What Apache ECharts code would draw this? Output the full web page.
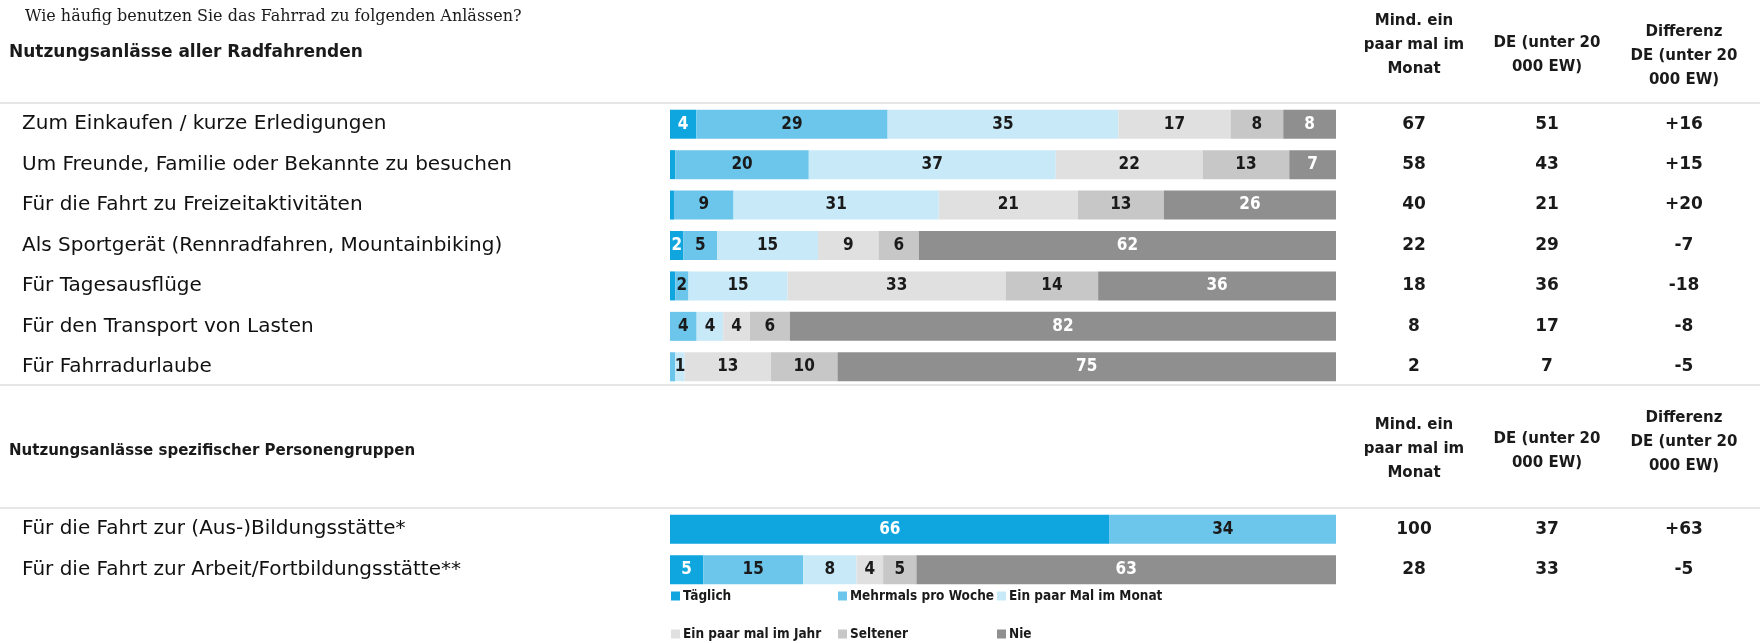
<!DOCTYPE html>
<html>
<head>
<meta charset="utf-8">
<script src="https://cdn.jsdelivr.net/npm/echarts@6/dist/echarts.min.js"></script>
<style>
  html, body { margin: 0; padding: 0; background: #fff; }
  #chart { width: 1760px; height: 643px; }
</style>
</head>
<body>
<div id="chart"></div>
<script>
// Stufen der Nutzungshäufigkeit
var stufen = ['Täglich', 'Mehrmals pro Woche', 'Ein paar Mal im Monat', 'Ein paar mal im Jahr', 'Seltener', 'Nie'];
var farben = ['#0fa5de', '#6cc5ea', '#c8eaf8', '#e0e0e0', '#c7c7c7', '#8f8f8f'];
var labelFarben = ['#fff', '#1a1a1a', '#1a1a1a', '#1a1a1a', '#1a1a1a', '#fff'];

// Nutzungsanlässe aller Radfahrenden
var anlaesse = [
  'Zum Einkaufen / kurze Erledigungen',
  'Um Freunde, Familie oder Bekannte zu besuchen',
  'Für die Fahrt zu Freizeitaktivitäten',
  'Als Sportgerät (Rennradfahren, Mountainbiking)',
  'Für Tagesausflüge',
  'Für den Transport von Lasten',
  'Für Fahrradurlaube'
];
var taeglich = [4, 0.8, 0.6, 2, 0.8, 0, 0];
var mehrmals = [29, 20, 9, 5, 2, 4, 0.8];
var monat = [35, 37, 31, 15, 15, 4, 1.4];
var jahr = [17, 22, 21, 9, 33, 4, 13];
var seltener = [8, 13, 13, 6, 14, 6, 10];
var nie = [8, 7, 26, 62, 36, 82, 75];
var mindMonat = [67, 58, 40, 22, 18, 8, 2];
var deWert = [51, 43, 21, 29, 36, 17, 7];
var differenz = ['+16', '+15', '+20', '-7', '-18', '-8', '-5'];

// Nutzungsanlässe spezifischer Personengruppen
var anlaesse2 = [
  'Für die Fahrt zur (Aus-)Bildungsstätte*',
  'Für die Fahrt zur Arbeit/Fortbildungsstätte**'
];
var taeglich2 = [66, 5];
var mehrmals2 = [34, 15];
var monat2 = [0, 8];
var jahr2 = [0, 4];
var seltener2 = [0, 5];
var nie2 = [0, 63];
var mindMonat2 = [100, 28];
var deWert2 = [37, 33];
var differenz2 = ['+63', '-5'];

var gruppe1 = [taeglich, mehrmals, monat, jahr, seltener, nie];
var gruppe2 = [taeglich2, mehrmals2, monat2, jahr2, seltener2, nie2];

var fontLabel = "'DejaVu Sans', Verdana, sans-serif";
var fontBar = "'Liberation Sans Narrow', 'DejaVu Sans Condensed', 'Roboto Condensed', sans-serif";
var fontLegende = "'DejaVu Sans Condensed', 'DejaVu Sans', sans-serif";

// Zeilen auf 100 % normieren, Beschriftung zeigt den Originalwert
function baueSerien(gruppe, gridNr) {
  var n = gruppe[0].length;
  var summen = [];
  for (var i = 0; i < n; i++) {
    var s = 0;
    for (var k = 0; k < gruppe.length; k++) s += gruppe[k][i];
    summen.push(s);
  }
  return gruppe.map(function (werte, k) {
    return {
      name: stufen[k],
      type: 'bar',
      stack: 'g' + gridNr,
      xAxisIndex: gridNr,
      yAxisIndex: gridNr * 2,
      barWidth: 29,
      itemStyle: { color: farben[k] },
      label: {
        show: true,
        position: 'inside',
        color: labelFarben[k],
        fontFamily: fontBar,
        fontWeight: 'bold',
        fontSize: 17,
        formatter: function (p) {
          return p.data.raw >= 1 ? Math.round(p.data.raw) : '';
        }
      },
      data: werte.map(function (v, i) {
        return { value: v / summen[i] * 100, raw: v };
      })
    };
  });
}

function rechteSpalten(a, b, c) {
  var stil = { fontSize: 17, fontWeight: 'bold', fontFamily: fontLabel, color: '#1a1a1a' };
  return {
    margin: 14,
    align: 'left',
    interval: 0,
    formatter: function (v, i) {
      return '{a|' + a[i] + '}{b|' + b[i] + '}{c|' + c[i] + '}';
    },
    rich: {
      a: Object.assign({ width: 128, align: 'center' }, stil),
      b: Object.assign({ width: 138, align: 'center' }, stil),
      c: Object.assign({ width: 136, align: 'center' }, stil)
    }
  };
}

function kategorieAchse(gridNr, daten) {
  return {
    type: 'category',
    gridIndex: gridNr,
    inverse: true,
    data: daten,
    axisLine: { show: false },
    axisTick: { show: false },
    axisLabel: {
      interval: 0,
      align: 'left',
      margin: 648,
      fontSize: 20,
      fontFamily: fontLabel,
      color: '#111'
    }
  };
}

function rechteAchse(gridNr, daten, a, b, c) {
  return {
    type: 'category',
    gridIndex: gridNr,
    inverse: true,
    position: 'right',
    data: daten,
    axisLine: { show: false },
    axisTick: { show: false },
    axisLabel: rechteSpalten(a, b, c)
  };
}

function kopfText(text, x, y, opts) {
  opts = opts || {};
  return {
    type: 'text',
    x: x,
    y: y,
    style: {
      text: text,
      fill: '#1a1a1a',
      font: opts.font || ('bold 15px ' + fontLabel),
      align: opts.align || 'center',
      textAlign: opts.align || 'center',
      verticalAlign: 'middle',
      textVerticalAlign: 'middle',
      lineHeight: opts.lineHeight || 24
    }
  };
}

function linie(y) {
  return {
    type: 'line',
    shape: { x1: 0, y1: y, x2: 1760, y2: y },
    style: { stroke: '#e6e6e6', lineWidth: 2 }
  };
}

var legendenPos = [
  [671, 589], [838, 589], [997, 589],
  [671, 627], [838, 627], [997, 627]
];

var chart = echarts.init(document.getElementById('chart'));
chart.setOption({
  animation: false,
  grid: [
    { left: 670, width: 666, top: 104, height: 283 },
    { left: 670, width: 666, top: 509, height: 81 }
  ],
  xAxis: [
    { type: 'value', gridIndex: 0, min: 0, max: 100, show: false },
    { type: 'value', gridIndex: 1, min: 0, max: 100, show: false }
  ],
  yAxis: [
    kategorieAchse(0, anlaesse),
    rechteAchse(0, anlaesse, mindMonat, deWert, differenz),
    kategorieAchse(1, anlaesse2),
    rechteAchse(1, anlaesse2, mindMonat2, deWert2, differenz2)
  ],
  legend: stufen.map(function (s, k) {
    return {
      data: [s],
      left: legendenPos[k][0],
      top: legendenPos[k][1],
      padding: 0,
      icon: 'rect',
      itemWidth: 9,
      itemHeight: 9,
      itemGap: 4,
      selectedMode: false,
      textStyle: { fontSize: 13.5, fontWeight: 'bold', fontFamily: fontLegende, color: '#1a1a1a', padding: [0, 0, 0, -2] }
    };
  }),
  graphic: [
    linie(103), linie(385), linie(508),
    kopfText('Wie häufig benutzen Sie das Fahrrad zu folgenden Anlässen?', 25, 17,
      { align: 'left', font: "16px 'DejaVu Serif', 'Liberation Serif', serif" }),
    kopfText('Nutzungsanlässe aller Radfahrenden', 9, 53, { align: 'left', font: 'bold 17px ' + fontLabel }),
    kopfText('Nutzungsanlässe spezifischer Personengruppen', 9, 451, { align: 'left', font: 'bold 15px ' + fontLabel }),
    kopfText('Mind. ein\npaar mal im\nMonat', 1414, 45),
    kopfText('DE (unter 20\n000 EW)', 1547, 55),
    kopfText('Differenz\nDE (unter 20\n000 EW)', 1684, 56),
    kopfText('Mind. ein\npaar mal im\nMonat', 1414, 449),
    kopfText('DE (unter 20\n000 EW)', 1547, 451),
    kopfText('Differenz\nDE (unter 20\n000 EW)', 1684, 442)
  ],
  series: baueSerien(gruppe1, 0).concat(baueSerien(gruppe2, 1))
});
</script>
</body>
</html>
